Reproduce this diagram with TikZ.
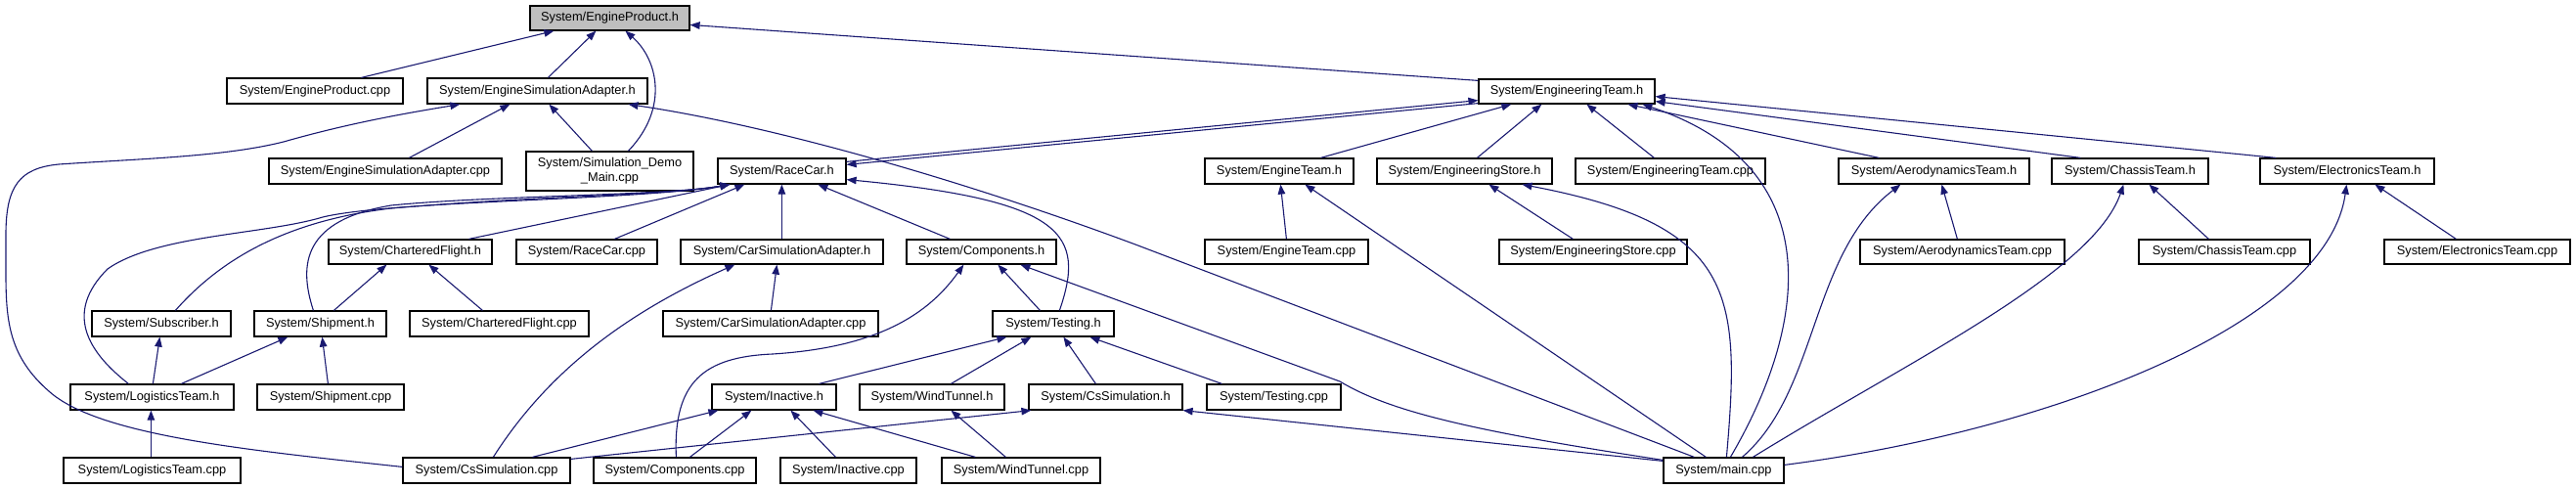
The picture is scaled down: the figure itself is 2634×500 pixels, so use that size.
\documentclass[tikz,border=0pt]{standalone}
\usepackage{fontspec}
\setmainfont{Liberation Sans}
\usetikzlibrary{arrows.meta}
\definecolor{edgecol}{HTML}{191970}
\definecolor{rootfill}{HTML}{BFBFBF}
\newcommand{\bx}[6]{\node[box,minimum width={(#4-#2)*1pt},minimum height={(#5-#3)*1pt}] (#1) at ({(#2+#4)/2},{(#3+#5)/2}) {#6};}
\newcommand{\Ntop}[2]{([xshift=#2pt]#1.north west)}
\newcommand{\Nbot}[2]{([xshift=#2pt]#1.south west)}
\tikzset{
  box/.style={draw=black,fill=white,line width=1.2pt,inner sep=0pt,font=\fontsize{12.8}{15}\selectfont,align=center},
  dep/.style={draw=edgecol,line width=1.1pt,-{Triangle[length=10pt,width=7.5pt]}}
}
\begin{document}
\begin{tikzpicture}[x=1pt,y=-1pt]
\useasboundingbox (0,0) rectangle (2634,500);
% nodes
\bx{EP}{542}{6}{705}{31}{System/EngineProduct.h}
\node[box,fill=rootfill,minimum width=163pt,minimum height=25pt] at (EP) {System/EngineProduct.h};
\bx{EPc}{232}{80}{412}{106}{System/EngineProduct.cpp}
\bx{ESA}{437}{80}{662}{106}{System/EngineSimulationAdapter.h}
\bx{ET}{1512}{81}{1692}{106}{System/EngineeringTeam.h}
\bx{ESAc}{275}{162}{513}{188}{System/EngineSimulationAdapter.cpp}
\bx{SDM}{538}{155}{709}{195}{System/Simulation\_Demo\\\_Main.cpp}
\bx{RC}{734}{162}{865}{188}{System/RaceCar.h}
\bx{ETm}{1232}{162}{1384}{188}{System/EngineTeam.h}
\bx{ES}{1408}{162}{1587}{188}{System/EngineeringStore.h}
\bx{ETc}{1611}{162}{1805}{188}{System/EngineeringTeam.cpp}
\bx{AT}{1880}{162}{2075}{188}{System/AerodynamicsTeam.h}
\bx{CT}{2098}{162}{2258}{188}{System/ChassisTeam.h}
\bx{ElT}{2311}{162}{2489}{188}{System/ElectronicsTeam.h}
\bx{CF}{336}{245}{503}{270}{System/CharteredFlight.h}
\bx{RCc}{528}{245}{672}{270}{System/RaceCar.cpp}
\bx{CSA}{696}{245}{903}{270}{System/CarSimulationAdapter.h}
\bx{Co}{927}{245}{1080}{270}{System/Components.h}
\bx{ETmc}{1232}{245}{1399}{270}{System/EngineTeam.cpp}
\bx{ESc}{1533}{245}{1725}{270}{System/EngineeringStore.cpp}
\bx{ATc}{1902}{245}{2111}{270}{System/AerodynamicsTeam.cpp}
\bx{CTc}{2187}{245}{2362}{270}{System/ChassisTeam.cpp}
\bx{ElTc}{2438}{245}{2628}{270}{System/ElectronicsTeam.cpp}
\bx{Sub}{94}{318}{236}{344}{System/Subscriber.h}
\bx{Sh}{260}{318}{395}{344}{System/Shipment.h}
\bx{CFc}{419}{318}{602}{344}{System/CharteredFlight.cpp}
\bx{CSAc}{678}{318}{898}{344}{System/CarSimulationAdapter.cpp}
\bx{Te}{1015}{318}{1139}{344}{System/Testing.h}
\bx{LT}{72}{393}{239}{419}{System/LogisticsTeam.h}
\bx{Shc}{263}{393}{413}{419}{System/Shipment.cpp}
\bx{In}{728}{393}{855}{419}{System/Inactive.h}
\bx{WT}{879}{393}{1027}{419}{System/WindTunnel.h}
\bx{CS}{1052}{393}{1209}{419}{System/CsSimulation.h}
\bx{Tec}{1234}{393}{1371}{419}{System/Testing.cpp}
\bx{LTc}{65}{468}{246}{494}{System/LogisticsTeam.cpp}
\bx{CSc}{412}{468}{583}{494}{System/CsSimulation.cpp}
\bx{Coc}{607}{468}{773}{494}{System/Components.cpp}
\bx{Inc}{798}{468}{937}{494}{System/Inactive.cpp}
\bx{WTc}{963}{468}{1125}{494}{System/WindTunnel.cpp}
\bx{M}{1701}{468}{1824}{494}{System/main.cpp}
% edges to EngineProduct.h
\draw[dep] \Ntop{EPc}{138} -- \Nbot{EP}{25};
\draw[dep] \Ntop{ESA}{124} -- \Nbot{EP}{68};
\draw[dep] \Ntop{SDM}{105} .. controls (685,110) and (672,60) .. \Nbot{EP}{98};
\draw[dep] ([yshift=-2pt]ET.north west) -- ([yshift=-20pt]EP.north east);
% edges to EngineSimulationAdapter.h
\draw[dep] \Ntop{ESAc}{144} -- \Nbot{ESA}{85};
\draw[dep] \Ntop{SDM}{68} -- \Nbot{ESA}{125};
\draw[dep] ([yshift=-10pt]CSc.north west) .. controls (250,460) and (100,445) .. (50,400) .. controls (10,365) and (6,330) .. (6,280) -- (6,240) .. controls (6,190) and (20,172) .. (60,168) .. controls (150,162) and (230,160) .. (290,145) .. controls (360,125) and (420,115) .. \Nbot{ESA}{34};
\draw[dep] \Ntop{M}{32} -- (1161,250) .. controls (1000,190) and (800,130) .. \Nbot{ESA}{206};
% RaceCar.h <-> EngineeringTeam.h
\draw[dep] ([yshift=-4pt]RC.north east) -- ([yshift=4pt]ET.south west);
\draw[dep] ([yshift=1pt]ET.south west) -- ([yshift=-7pt]RC.north east);
% edges to EngineeringTeam.h
\draw[dep] \Ntop{ETm}{119} -- \Nbot{ET}{34};
\draw[dep] \Ntop{ES}{103} -- \Nbot{ET}{65};
\draw[dep] \Ntop{ETc}{81} -- \Nbot{ET}{111};
\draw[dep] \Ntop{AT}{42} -- \Nbot{ET}{153};
\draw[dep] \Ntop{CT}{30} -- ([yshift=3pt]ET.south east);
\draw[dep] \Ntop{ElT}{17} -- ([yshift=8pt]ET.south east);
\draw[dep] \Ntop{M}{69} .. controls (1850,330) and (1870,170) .. \Nbot{ET}{168};
% edges to RaceCar.h
\draw[dep] \Ntop{LT}{60} .. controls (90,360) and (65,320) .. (110,275) .. controls (160,240) and (270,240) .. (330,222) .. controls (400,205) and (650,205) .. \Nbot{RC}{13};
\draw[dep] \Ntop{Sub}{86} .. controls (230,260) and (300,225) .. (400,213) .. controls (550,200) and (680,200) .. \Nbot{RC}{13};
\draw[dep] \Ntop{Sh}{61} .. controls (305,270) and (310,225) .. (400,210) .. controls (500,200) and (680,200) .. \Nbot{RC}{13};
\draw[dep] \Ntop{CF}{144} -- \Nbot{RC}{13};
\draw[dep] \Ntop{RCc}{101} -- \Nbot{RC}{28};
\draw[dep] \Ntop{CSA}{104} -- \Nbot{RC}{66};
\draw[dep] \Ntop{Co}{45} -- \Nbot{RC}{103};
\draw[dep] \Ntop{Te}{69} .. controls (1110,240) and (1090,205) .. ([yshift=5pt]RC.south east);
% logistics
\draw[dep] \Ntop{LT}{85} -- \Nbot{Sub}{70};
\draw[dep] \Ntop{LT}{114} -- \Nbot{Sh}{35};
\draw[dep] \Ntop{Shc}{73} -- \Nbot{Sh}{70};
\draw[dep] \Ntop{Sh}{82} -- \Nbot{CF}{60};
\draw[dep] \Ntop{CFc}{75} -- \Nbot{CF}{103};
\draw[dep] \Ntop{LTc}{90} -- \Nbot{LT}{83};
% car simulation adapter / components
\draw[dep] \Ntop{CSc}{93} .. controls (560,380) and (640,320) .. \Nbot{CSA}{56};
\draw[dep] \Ntop{CSAc}{111} -- \Nbot{CSA}{99};
\draw[dep] \Ntop{Coc}{85} .. controls (688,390) and (720,365) .. (790,362) .. controls (900,355) and (950,320) .. \Nbot{Co}{59};
\draw[dep] \Ntop{Te}{49} -- \Nbot{Co}{94};
\draw[dep] ([yshift=-3pt]M.north west) .. controls (1500,440) and (1420,420) .. (1370,390) -- \Nbot{Co}{117};
% testing
\draw[dep] \Ntop{In}{110} -- \Nbot{Te}{15};
\draw[dep] \Ntop{WT}{94} -- \Nbot{Te}{40};
\draw[dep] \Ntop{CS}{69} -- \Nbot{Te}{73};
\draw[dep] \Ntop{Tec}{16} -- \Nbot{Te}{100};
% inactive
\draw[dep] \Ntop{CSc}{133} -- \Nbot{In}{7};
\draw[dep] \Ntop{Coc}{99} -- \Nbot{In}{41};
\draw[dep] \Ntop{Inc}{57} -- \Nbot{In}{81};
\draw[dep] \Ntop{WTc}{35} -- \Nbot{In}{104};
% cs simulation / wind tunnel
\draw[dep] ([yshift=-2pt]CSc.north east) -- \Nbot{CS}{3};
\draw[dep] ([yshift=-4pt]M.north west) -- (CS.south east);
\draw[dep] \Ntop{WTc}{66} -- \Nbot{WT}{94};
% teams
\draw[dep] \Ntop{ETmc}{84} -- \Nbot{ETm}{78};
\draw[dep] \Ntop{M}{44} -- \Nbot{ETm}{103};
\draw[dep] \Ntop{ESc}{76} -- \Nbot{ES}{115};
\draw[dep] \Ntop{M}{65} .. controls (1780,300) and (1775,230) .. \Nbot{ES}{149};
\draw[dep] \Ntop{ATc}{100} -- \Nbot{AT}{106};
\draw[dep] \Ntop{M}{81} .. controls (1860,400) and (1850,260) .. \Nbot{AT}{64};
\draw[dep] \Ntop{CTc}{72} -- \Nbot{CT}{100};
\draw[dep] \Ntop{M}{92} .. controls (1950,370) and (2140,280) .. \Nbot{CT}{74};
\draw[dep] \Ntop{ElTc}{74} -- \Nbot{ElT}{118};
\draw[dep] ([yshift=-8pt]M.north east) .. controls (2100,440) and (2380,330) .. \Nbot{ElT}{89};
\end{tikzpicture}
\end{document}
